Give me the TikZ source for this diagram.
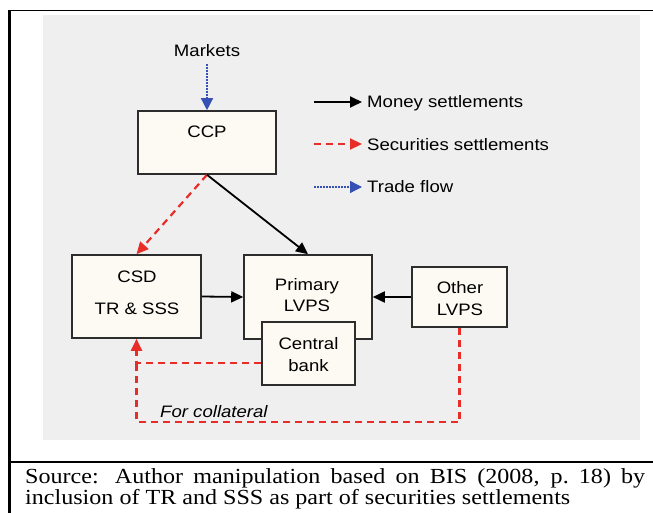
\documentclass[tikz,border=0pt]{standalone}
\usepackage{fontspec}
\setmainfont{Liberation Serif}[FakeStretch=1.12]
\newfontfamily\diagfont{Liberation Sans}[FakeStretch=1.12]
\usetikzlibrary{arrows.meta}

\definecolor{panel}{RGB}{239,239,239}
\definecolor{boxfill}{RGB}{252,250,242}
\definecolor{boxline}{RGB}{45,45,45}
\definecolor{secred}{RGB}{232,45,40}
\definecolor{tradeblue}{RGB}{55,80,180}

\tikzset{
  box/.style={draw=boxline, fill=boxfill, line width=1.6pt, inner sep=0pt},
  lbl/.style={font=\diagfont\fontsize{16.6}{19}\selectfont, inner sep=0pt, anchor=base},
  money/.style={draw=black, line width=1.8pt, -{Triangle[length=12pt,width=11pt]}},
  secur/.style={draw=secred, line width=2.2pt, dash pattern=on 7pt off 5pt,
                -{Triangle[length=12pt,width=11pt]}},
  securline/.style={draw=secred, line width=2.2pt, dash pattern=on 7pt off 5pt},
  trade/.style={draw=tradeblue, line width=1.4pt, dash pattern=on 1.6pt off 1.4pt,
                -{Triangle[length=12pt,width=12pt,fill=tradeblue]}},
}

\begin{document}
\begin{tikzpicture}[x=1pt,y=-1pt]
  \useasboundingbox (0,0) rectangle (653,513);
  \fill[white] (0,0) rectangle (653,513);

  % frame of the figure and its caption
  \draw[line width=1.6pt] (8,10.5) -- (653,10.5);
  \draw[line width=2.6pt] (9.5,10) -- (9.5,513);
  \draw[line width=2pt] (8,462) -- (653,462);

  % grey drawing panel
  \fill[panel] (43,15) rectangle (640,440);

  % boxes
  \node[box, minimum width=138pt, minimum height=63pt] (ccp) at (207,142.5) {};
  \node[box, minimum width=129pt, minimum height=83pt] (csd) at (136.5,296.5) {};
  \node[box, minimum width=128pt, minimum height=84pt] (prim) at (308,297) {};
  \node[box, minimum width=93pt, minimum height=63pt] (cb) at (308.5,353.5) {};
  \node[box, minimum width=95pt, minimum height=60pt] (oth) at (459.5,297) {};

  % box texts
  \node[lbl] (tmkt) at (207,57) {Markets};
  \node[lbl] (tccp) at (207,138) {CCP};
  \node[lbl] (tcsd) at (137,282) {CSD};
  \node[lbl] (ttr) at (137,314) {TR \& SSS};
  \node[lbl] (tprim) at (307,290) {Primary};
  \node[lbl] (tlvps) at (307,311) {LVPS};
  \node[lbl] (tcen) at (308.5,349) {Central};
  \node[lbl] (tbank) at (308.5,371) {bank};
  \node[lbl] (toth) at (460,293) {Other};
  \node[lbl] (tolv) at (460,315) {LVPS};
  \node[lbl, anchor=base west, font=\diagfont\itshape\fontsize{16.6}{19}\selectfont]
       (tcol) at (160,417) {For collateral};

  % flows
  \draw[trade] (tmkt.south |- 0,64) -- (ccp.north);
  \draw[secur] (ccp.south) -- (csd.north);
  \draw[money] (ccp.south) -- (prim.north);
  \draw[money] (csd.east) -- (prim.west);
  \draw[money] (oth.west) -- (prim.east);

  \coordinate (join) at (136.5,363);
  \coordinate (corner) at (136.5,422);
  \draw[secur] ([yshift=-9.5pt]cb.west) -- (join) -- (csd.south);
  \draw[securline] (oth.south) |- (corner) -- (join);

  % legend
  \coordinate (m1) at (314,102);  \coordinate (m2) at (362,102);
  \coordinate (s1) at (314,144);  \coordinate (s2) at (362,144);
  \coordinate (t1) at (314,187);  \coordinate (t2) at (362,187);
  \draw[money] (m1) -- (m2);
  \draw[secur] (s1) -- (s2);
  \draw[trade] (t1) -- (t2);
  \node[lbl, anchor=base west] (lm) at (367,108) {Money settlements};
  \node[lbl, anchor=base west] (ls) at (367,151) {Securities settlements};
  \node[lbl, anchor=base west] (lt) at (367,193) {Trade flow};

  % caption
  \node[anchor=base west, inner sep=0pt, text width=620pt, align=justify,
        font=\fontsize{21.5}{21}\selectfont] (src) at (25,483)
    {Source: Author manipulation based on BIS (2008, p.~18) by\linebreak
     inclusion of TR and SSS as part of securities settlements};
\end{tikzpicture}
\end{document}
